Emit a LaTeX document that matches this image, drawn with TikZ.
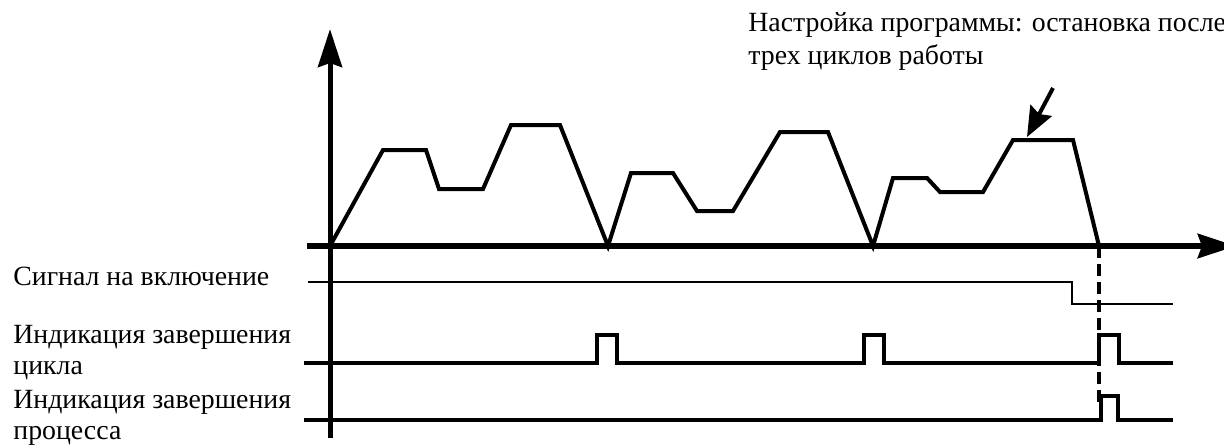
\documentclass[tikz,border=0pt]{standalone}
\usepackage{fontspec}
\setmainfont{Liberation Serif}
\usetikzlibrary{arrows.meta}
\begin{document}
\begin{tikzpicture}[x=0.5pt,y=-0.5pt,
  lbl/.style={anchor=base west, inner sep=0pt, font=\fontsize{13.9}{16}\selectfont},
  yaxis/.style={line width=2.5pt, -{Stealth[length=19pt,width=12pt,inset=2pt]}},
  xaxis/.style={line width=3.2pt, -{Stealth[length=19pt,width=12pt,inset=2pt]}},
  wave/.style={line width=2pt, line join=miter},
  onsig/.style={line width=1.4pt, line join=miter},
  cycsig/.style={line width=2.4pt, line join=miter},
  procsig/.style={line width=1.7pt, line join=miter},
  stopline/.style={line width=2.4pt, dash pattern=on 6pt off 3pt},
  pointer/.style={line width=2pt, -{Stealth[length=15pt,width=12pt,inset=2pt]}}]
\useasboundingbox (0,0) rectangle (1224,447);
\clip (0,0) rectangle (1224,447);
% axes
\coordinate (O) at (330,246);
\coordinate (ytop) at (330,29);
\coordinate (ybot) at (330,438);
\coordinate (xl) at (307,246);
\coordinate (xr) at (1236,246);
\draw[yaxis] (ybot) -- (ytop);
\draw[xaxis] (xl) -- (xr);
% waveform
\coordinate (stop) at (1099,246);
\draw[wave] (O) -- (383,150) -- (426,150) -- (439,189) -- (483,189) -- (511,125) -- (560,125)
  -- (608,246) -- (631,173) -- (673,173) -- (697,211) -- (733,211) -- (780,132) -- (828,132)
  -- (873,246) -- (893,178) -- (927,178) -- (940,192) -- (983,192) -- (1013,140) -- (1073,140)
  -- (stop);
% dashed stop line
\coordinate (stopbot) at (1099,407);
\draw[stopline] (stop) -- (stopbot);
% signals
\draw[onsig] (308,282) -- (1072,282) -- (1072,304) -- (1173,304);
\draw[cycsig] (304,363) -- (597,363) -- (597,335) -- (617,335) -- (617,363) -- (864,363)
  -- (864,335) -- (884,335) -- (884,363) -- (1099,363) -- (1099,335) -- (1119,335)
  -- (1119,363) -- (1173,363);
\draw[procsig] (304,420) -- (1101,420) -- (1101,396) -- (1118,396) -- (1118,420) -- (1173,420);
% pointer
\coordinate (ptail) at (1053,88);
\coordinate (ptip) at (1027,137);
\draw[pointer] (ptail) -- (ptip);
% texts
\node[lbl] (note1) at (748,31) {Настройка программы: остановка после};
\node[lbl] (note2) at (748,64) {трех циклов работы};
\node[lbl] (l1) at (13,285) {Сигнал на включение};
\node[lbl] (l2a) at (13,343) {Индикация завершения};
\node[lbl] (l2b) at (13,374) {цикла};
\node[lbl] (l3a) at (13,408) {Индикация завершения};
\node[lbl] (l3b) at (13,439) {процесса};
\end{tikzpicture}
\end{document}
